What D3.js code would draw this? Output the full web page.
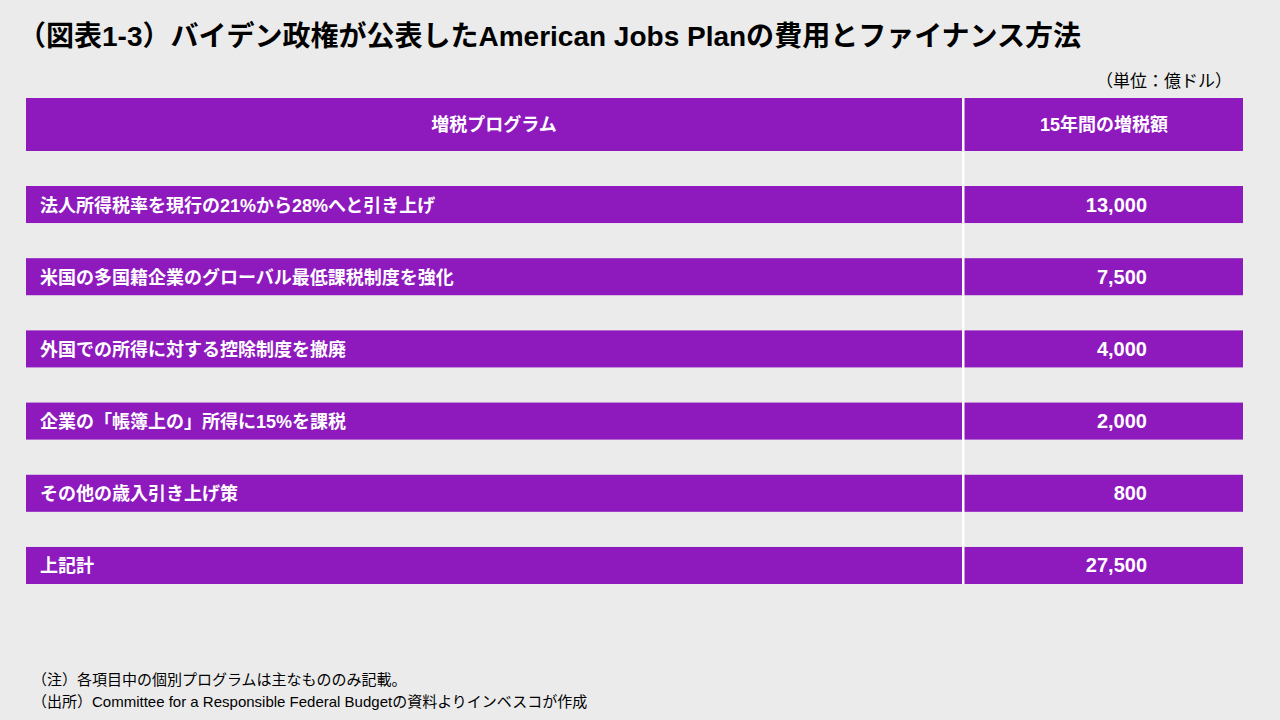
<!DOCTYPE html>
<html><head><meta charset="utf-8">
<script src="https://cdn.jsdelivr.net/npm/d3@7"></script>
<style>body{margin:0;background:#ebebeb}</style>
</head><body><div id="chart"></div>
<script>
const titleText="（図表1-3）バイデン政権が公表したAmerican Jobs Planの費用とファイナンス方法"
const unitText="（単位：億ドル）"
const headers=["増税プログラム","15年間の増税額"]
const programs=["法人所得税率を現行の21%から28%へと引き上げ","米国の多国籍企業のグローバル最低課税制度を強化","外国での所得に対する控除制度を撤廃","企業の「帳簿上の」所得に15%を課税","その他の歳入引き上げ策","上記計"]
const amounts=[13000,7500,4000,2000,800,27500]
const notes=["（注）各項目中の個別プログラムは主なもののみ記載。","（出所）Committee for a Responsible Federal Budgetの資料よりインベスコが作成"]

const purple="#8e1abe"
const font="'Liberation Sans','Noto Sans CJK JP',sans-serif"

let svg=d3.select("#chart").append("svg")
    .attr("width",1280)
    .attr("height",720)
    .style("font-family",font)

svg.append("rect").attr("width",1280).attr("height",720).attr("fill","#ebebeb")

svg.append("text")
    .attr("x",18).attr("y",46)
    .text(titleText)
    .style("font-size","28px")
    .style("font-weight","bold")
    .attr("fill","#000")

svg.append("text")
    .attr("x",1232).attr("y",87)
    .attr("text-anchor","end")
    .text(unitText)
    .style("font-size","17px")

// columns
let x=d3.scaleOrdinal().domain(["label","value"]).range([26,964])
let colW={label:936,value:1279-1243>0?279:279}

// header
svg.append("rect").attr("x",26).attr("y",98).attr("width",1217).attr("height",53).attr("fill",purple)
svg.append("text").attr("x",494).attr("y",131).attr("text-anchor","middle")
    .text(headers[0]).attr("fill","#fff").style("font-size","18px").style("font-weight","bold")
svg.append("text").attr("x",1104).attr("y",131).attr("text-anchor","middle")
    .text(headers[1]).attr("fill","#fff").style("font-size","18px").style("font-weight","bold")

let y=d3.scaleBand().domain(programs).range([186,584]).paddingInner(0.487).paddingOuter(0)
let fmt=d3.format(",")

let rows=svg.selectAll("g.row").data(programs).enter().append("g").attr("class","row")
rows.append("rect")
    .attr("x",26).attr("y",d=>y(d)).attr("width",1217).attr("height",y.bandwidth()).attr("fill",purple)
rows.append("text")
    .attr("x",40).attr("y",d=>y(d)+y.bandwidth()/2+7)
    .text(d=>d).attr("fill","#fff").style("font-size","18px").style("font-weight","bold")
rows.append("text")
    .attr("x",1147).attr("y",d=>y(d)+y.bandwidth()/2+7)
    .attr("text-anchor","end")
    .text((d,i)=>fmt(amounts[i])).attr("fill","#fff").style("font-size","20px").style("font-weight","bold")

// column divider
svg.append("rect").attr("x",962).attr("y",98).attr("width",2.5).attr("height",y.range()[1]-98).attr("fill","#fff")

svg.selectAll("text.note").data(notes).enter().append("text")
    .attr("class","note")
    .attr("x",32).attr("y",(d,i)=>685+i*22)
    .text(d=>d).style("font-size","15px").attr("fill","#000")
</script></body></html>
